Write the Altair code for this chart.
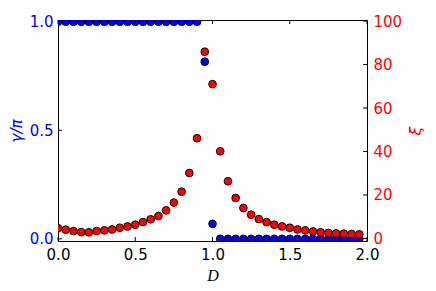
import altair as alt
import pandas as pd

# ---- data ----
D = [0.0, 0.05, 0.1, 0.15, 0.2, 0.25, 0.3, 0.35, 0.4, 0.45,
     0.5, 0.55, 0.6, 0.65, 0.7, 0.75, 0.8, 0.85, 0.9, 0.95,
     1.0, 1.05, 1.1, 1.15, 1.2, 1.25, 1.3, 1.35, 1.4, 1.45,
     1.5, 1.55, 1.6, 1.65, 1.7, 1.75, 1.8, 1.85, 1.9, 1.95]
gamma_over_pi = [1.0, 1.0, 1.0, 1.0, 1.0, 1.0, 1.0, 1.0, 1.0, 1.0,
                 1.0, 1.0, 1.0, 1.0, 1.0, 1.0, 1.0, 1.0, 1.0, 0.816,
                 0.069, 0.0, 0.0, 0.0, 0.0, 0.0, 0.0, 0.0, 0.0, 0.0,
                 0.0, 0.0, 0.0, 0.0, 0.0, 0.0, 0.0, 0.0, 0.0, 0.0]
xi = [4.7, 4.0, 3.4, 2.9, 2.8, 3.4, 3.7, 4.1, 4.9, 5.5,
      6.3, 7.5, 8.8, 10.3, 12.9, 16.5, 21.5, 30.1, 46.1, 85.9,
      71.0, 40.1, 26.3, 18.6, 14.0, 10.9, 8.9, 7.5, 6.3, 5.5,
      4.9, 4.1, 3.7, 3.2, 2.8, 2.5, 2.3, 2.2, 2.0, 1.9]
x_ticks = [0.0, 0.5, 1.0, 1.5, 2.0]
left_ticks = [0.0, 0.5, 1.0]
right_ticks = [0, 20, 40, 60, 80, 100]

df = pd.DataFrame({"D": D, "g": gamma_over_pi, "xi": xi})
xt = pd.DataFrame({"t": x_ticks})
lt = pd.DataFrame({"t": left_ticks})
rt = pd.DataFrame({"t": right_ticks})

W, H = 309, 221
TL = 4
BLUE = "#0000ff"
RED = "#ff0000"

xscale = alt.Scale(domain=[0, 2], nice=False, zero=False)
lscale = alt.Scale(domain=[-0.01, 1.008], nice=False, zero=False)
rscale = alt.Scale(domain=[-1.2, 100.5], nice=False, zero=False)

xaxis = alt.Axis(
    values=x_ticks, format=".1f", ticks=False, domain=False,
    labelPadding=6, labelFlush=False, labelColor="black",
    title="D", titleFont="Liberation Serif", titleFontStyle="italic",
    titleFontWeight="normal", titleFontSize=16, titleColor="black",
    titleX=W / 2, titleY=34, titleBaseline="middle", titleAlign="center")

blue = alt.Chart(df).mark_circle(
    color=BLUE, stroke="black", strokeWidth=0.9, size=60, opacity=1, clip=True
).encode(
    x=alt.X("D:Q", scale=xscale, axis=xaxis, title="D"),
    y=alt.Y("g:Q", scale=lscale, axis=alt.Axis(
        orient="left", values=left_ticks, format=".1f", ticks=False, domain=False,
        labelPadding=5, labelColor=BLUE,
        title="γ/π", titleFont="DejaVu Sans", titleFontStyle="italic",
        titleFontWeight="normal", titleFontSize=15, titleColor=BLUE,
        titleAngle=270, titleX=-42, titleY=H / 2, titleBaseline="middle",
        titleAlign="center")),
)

red = alt.Chart(df).mark_circle(
    color=RED, stroke="black", strokeWidth=0.9, size=60, opacity=1, clip=True
).encode(
    x=alt.X("D:Q", scale=xscale, axis=xaxis, title="D"),
    y=alt.Y("xi:Q", scale=rscale, axis=alt.Axis(
        orient="right", values=right_ticks, format="d", ticks=False,
        domain=False, labelPadding=6, labelColor=RED,
        title="ξ", titleFont="DejaVu Sans", titleFontStyle="italic",
        titleFontWeight="normal", titleFontSize=16, titleColor=RED,
        titleAngle=270, titleX=48, titleY=H / 2, titleBaseline="middle",
        titleAlign="center")),
)

xt_bottom = alt.Chart(xt).mark_rule(color="black", strokeWidth=1).encode(
    x=alt.X("t:Q", scale=xscale, axis=xaxis, title="D"),
    y=alt.value(H), y2=alt.value(H - TL))
xt_top = alt.Chart(xt).mark_rule(color="black", strokeWidth=1).encode(
    x=alt.X("t:Q", scale=xscale, axis=xaxis, title="D"),
    y=alt.value(0), y2=alt.value(TL))
lt_rule = alt.Chart(lt).mark_rule(color="black", strokeWidth=1).encode(
    y=alt.Y("t:Q", scale=lscale, axis=None), x=alt.value(0), x2=alt.value(TL))
rt_rule = alt.Chart(rt).mark_rule(color="black", strokeWidth=1).encode(
    y=alt.Y("t:Q", scale=rscale, axis=None), x=alt.value(W - TL), x2=alt.value(W))

chart = alt.layer(blue, red, xt_bottom, xt_top, lt_rule, rt_rule).resolve_scale(
    y="independent"
).properties(
    width=W, height=H,
    padding={"left": 50, "top": 12, "right": 61, "bottom": 42},
    autosize=alt.AutoSizeParams(type="none"),
    background="white",
).configure_view(
    stroke="black", strokeWidth=1
).configure_axis(
    labelFont="DejaVu Sans", labelFontSize=15, grid=False
)

chart.save("out.html", embed_options={"renderer": "svg", "actions": False})
